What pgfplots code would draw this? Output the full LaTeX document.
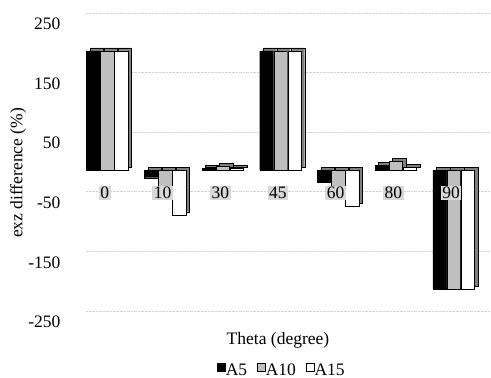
\documentclass[border=0pt]{standalone}
\usepackage{pgfplots}
\pgfplotsset{compat=1.18}
\usepackage{fontspec}
\setmainfont{Liberation Serif}
\definecolor{barg}{HTML}{BFBFBF}
\definecolor{sideg}{HTML}{7F7F7F}
\definecolor{lblg}{HTML}{D9D9D9}
\begin{document}
\begin{tikzpicture}
\useasboundingbox (-76pt,-56pt) rectangle (415pt,322pt);
\begin{axis}[
  at={(0pt,0pt)}, anchor=south west,
  scale only axis, width=404pt, height=298pt,
  xmin=-0.5, xmax=6.5, ymin=-250, ymax=250,
  axis x line*=middle, axis y line*=left,
  axis line style={draw=none},
  tick style={draw=none},
  xtick=\empty,
  ytick={-250,-150,-50,50,150,250},
  ymajorgrids,
  major grid style={draw=gray!35, densely dotted, line width=0.8pt, xshift=10pt, yshift=11pt},
  /pgf/number format/assume math mode=true,
  font=\fontsize{17.5}{20}\selectfont,
  ticklabel style={font=\fontsize{17.5}{20}\selectfont},
  yticklabel style={xshift=-12pt},
  ylabel={exz difference (\%)},
  every axis y label/.style={at={(axis description cs:0,0.5)}, xshift=-58pt, rotate=90, anchor=center},
  xlabel={Theta (degree)},
  every axis x label/.style={at={(axis description cs:0.5,0)}, yshift=-18pt, anchor=center},
  bar width=13.5pt,
  legend style={at={(axis description cs:0.5,0)}, yshift=-48pt, xshift=4pt, anchor=center, draw=none, fill=none,
    legend columns=3, font=\fontsize{17.5}{20}\selectfont, /tikz/every even column/.append style={column sep=8pt},
    /tikz/every odd column/.append style={column sep=-2pt}},
  legend image code/.code={\draw[#1, draw=black, line width=0.6pt] (0pt,-4pt) rectangle (8pt,4pt);},
]
% shadows (3D side/top faces)
\addplot[ybar, bar shift=-14pt, fill=sideg, draw=black, line width=0.4pt, xshift=6pt, yshift=6pt, forget plot]
  coordinates {(0,200) (1,-13) (2,3) (3,200) (4,-20) (5,8) (6,-200)};
\addplot[ybar, bar shift=0pt, fill=sideg, draw=black, line width=0.4pt, xshift=6pt, yshift=6pt, forget plot]
  coordinates {(0,200) (1,-30) (2,6) (3,200) (4,-30) (5,15) (6,-200)};
\addplot[ybar, bar shift=14pt, fill=sideg, draw=black, line width=0.4pt, xshift=6pt, yshift=6pt, forget plot]
  coordinates {(0,200) (1,-75) (2,3) (3,200) (4,-60) (5,5) (6,-200)};
% front faces
\addplot[ybar, bar shift=-14pt, fill=black, draw=black, line width=0.4pt, xshift=2.5pt, yshift=3pt]
  coordinates {(0,200) (1,-13) (2,3) (3,200) (4,-20) (5,8) (6,-200)};
\addplot[ybar, bar shift=0pt, fill=barg, draw=black, line width=0.4pt, xshift=2.5pt, yshift=3pt]
  coordinates {(0,200) (1,-30) (2,6) (3,200) (4,-30) (5,15) (6,-200)};
\addplot[ybar, bar shift=14pt, fill=white, draw=black, line width=0.4pt, xshift=2.5pt, yshift=3pt]
  coordinates {(0,200) (1,-75) (2,3) (3,200) (4,-60) (5,5) (6,-200)};
\legend{A5,A10,A15}
% category labels, drawn on top of the bars
\addplot[draw=none, mark=none, forget plot, nodes near coords, point meta=explicit symbolic,
  nodes near coords style={anchor=center, yshift=-20pt, fill=lblg, inner sep=1.5pt, font=\fontsize{17.5}{20}\selectfont}]
  coordinates {(0,0) [0] (1,0) [10] (2,0) [30] (3,0) [45] (4,0) [60] (5,0) [80] (6,0) [90]};
\end{axis}
\end{tikzpicture}
\end{document}
